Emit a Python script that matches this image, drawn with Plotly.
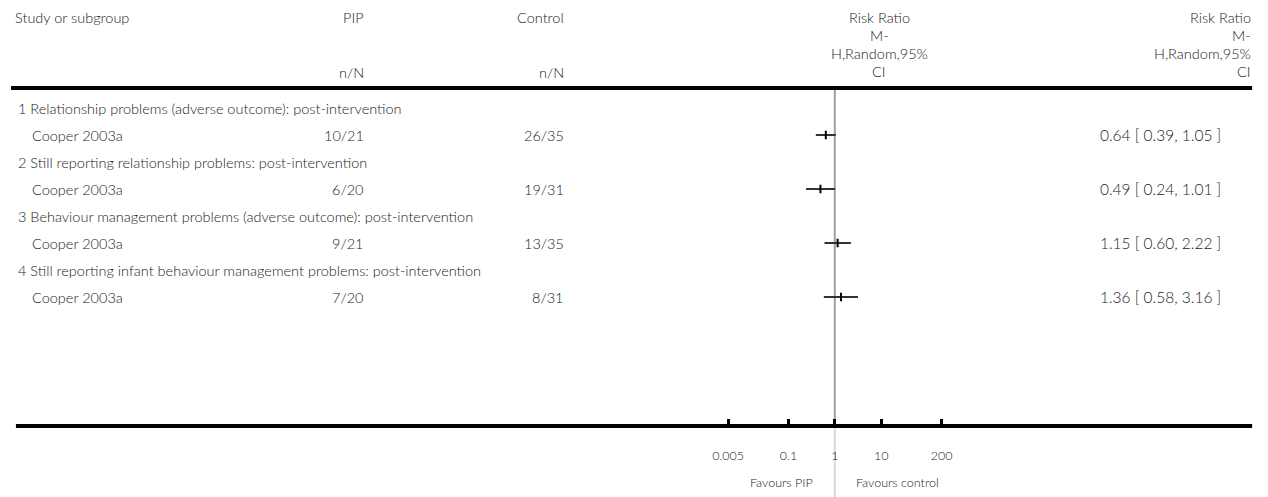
import math
import plotly.graph_objects as go

# ---- data -------------------------------------------------------------
subgroups = [
    "1 Relationship problems (adverse outcome): post-intervention",
    "2 Still reporting relationship problems: post-intervention",
    "3 Behaviour management problems (adverse outcome): post-intervention",
    "4 Still reporting infant behaviour management problems: post-intervention",
]
studies = ["Cooper 2003a", "Cooper 2003a", "Cooper 2003a", "Cooper 2003a"]
pip_events = [10, 6, 9, 7]
pip_total = [21, 20, 21, 20]
ctl_events = [26, 19, 13, 8]
ctl_total = [35, 31, 35, 31]
rr = [0.64, 0.49, 1.15, 1.36]
ci_low = [0.39, 0.24, 0.60, 0.58]
ci_high = [1.05, 1.01, 2.22, 3.16]
tick_vals = [0.005, 0.1, 1, 10, 200]
tick_text = ["0.005", "0.1", "1", "10", "200"]

# ---- layout constants (pixels) ---------------------------------------
W, H = 1268, 497
FONT = "Lato, 'Open Sans', sans-serif"
TXT = "#1a1a1a"
FS = 14.5
FS_EFFECT = 15.5
WEIGHT = 300
null_px = 835          # pixel where RR = 1 sits
decade_px = 47         # pixels per factor of ten
axis_lo, axis_hi = 0.004, 250
axis_y = 426
header_rule_y = 88
first_group_y = 108
group_step = 54
study_offset = 27

col_pip = 360
col_ctl = 563
col_rr_center = 880
col_rr_right = 1259
col_effect = 1228


def px(x):
    return x / W


plot_x0 = null_px + decade_px * math.log10(axis_lo)
plot_x1 = null_px + decade_px * math.log10(axis_hi)

fig = go.Figure()
ann = []


def text(x, y, s, anchor="left", size=FS, color=TXT):
    ann.append(dict(x=px(x), y=y, xref="paper", yref="y", text=s,
                    showarrow=False, xanchor=anchor, yanchor="middle",
                    font=dict(family=FONT, size=size, color=color,
                              weight=WEIGHT)))


# column headings
text(2, 17, "Study or subgroup")
text(col_pip, 17, "PIP", "right")
text(col_pip, 72, "n/N", "right")
text(col_ctl, 17, "Control", "right")
text(col_ctl, 72, "n/N", "right")
rr_head = ["Risk Ratio", "M-", "H,Random,95%", "CI"]
for i, line in enumerate(rr_head):
    yy = 17 + i * 18.3
    text(col_rr_center, yy, line, "center")
    text(col_rr_right, yy, line, "right")

# subgroup and study rows
row_y = []
for i, title in enumerate(subgroups):
    gy = first_group_y + i * group_step
    sy = gy + study_offset
    row_y.append(sy)
    text(5, gy, title)
    text(19, sy, studies[i])
    text(col_pip, sy, f"{pip_events[i]}/{pip_total[i]}", "right")
    text(col_ctl, sy, f"{ctl_events[i]}/{ctl_total[i]}", "right")
    text(col_effect, sy,
         f"{rr[i]:.2f} [ {ci_low[i]:.2f}, {ci_high[i]:.2f} ]", "right",
         size=FS_EFFECT)

# favours labels under the axis
text(815, 482, "Favours PIP", "right", size=12.5)
text(854, 482, "Favours control", "left", size=12.5)

# line of no effect
fig.add_trace(go.Scatter(x=[1, 1], y=[header_rule_y + 2, axis_y], mode="lines",
                         line=dict(color="#a0a0a0", width=2),
                         hoverinfo="skip", showlegend=False))
fig.add_trace(go.Scatter(x=[1, 1], y=[axis_y, H], mode="lines",
                         line=dict(color="#dadada", width=2),
                         hoverinfo="skip", showlegend=False))

# confidence intervals
ci_x, ci_y = [], []
for lo, hi, y in zip(ci_low, ci_high, row_y):
    ci_x += [lo, hi, None]
    ci_y += [y, y, None]
fig.add_trace(go.Scatter(x=ci_x, y=ci_y, mode="lines",
                         line=dict(color="#333333", width=2),
                         hoverinfo="skip", showlegend=False))
# point estimates
fig.add_trace(go.Scatter(x=rr, y=row_y, mode="markers",
                         marker=dict(symbol="line-ns-open", size=6,
                                     color="#000000",
                                     line=dict(color="#000000", width=2)),
                         hoverinfo="skip", showlegend=False))

# heavy rules under the heading and along the axis
fig.add_shape(type="line", xref="paper", yref="y", x0=0, x1=px(1258),
              y0=header_rule_y, y1=header_rule_y,
              line=dict(color="#000000", width=4))
fig.add_shape(type="line", xref="paper", yref="y", x0=px(5), x1=px(1258),
              y0=axis_y, y1=axis_y, line=dict(color="#000000", width=4))

fig.update_layout(
    width=W, height=H,
    margin=dict(l=0, r=0, t=0, b=0),
    paper_bgcolor="white", plot_bgcolor="white",
    showlegend=False,
    annotations=ann,
    xaxis=dict(type="log", domain=[px(plot_x0), px(plot_x1)],
               range=[math.log10(axis_lo), math.log10(axis_hi)],
               anchor="free", position=(H - axis_y) / H,
               showgrid=False, zeroline=False, showline=False,
               ticks="inside", ticklen=7, tickwidth=3, tickcolor="#000000",
               tickvals=tick_vals, ticktext=tick_text,
               tickfont=dict(family=FONT, size=12.5, color=TXT, weight=WEIGHT),
               ticklabelstandoff=20, fixedrange=True),
    yaxis=dict(range=[H, 0], domain=[0, 1], visible=False,
               showgrid=False, zeroline=False, fixedrange=True),
)

fig.write_html(
    "out.html",
    config={"displayModeBar": False, "responsive": False},
    post_script="document.body.style.margin='0';"
                "document.body.style.overflow='hidden';",
)
